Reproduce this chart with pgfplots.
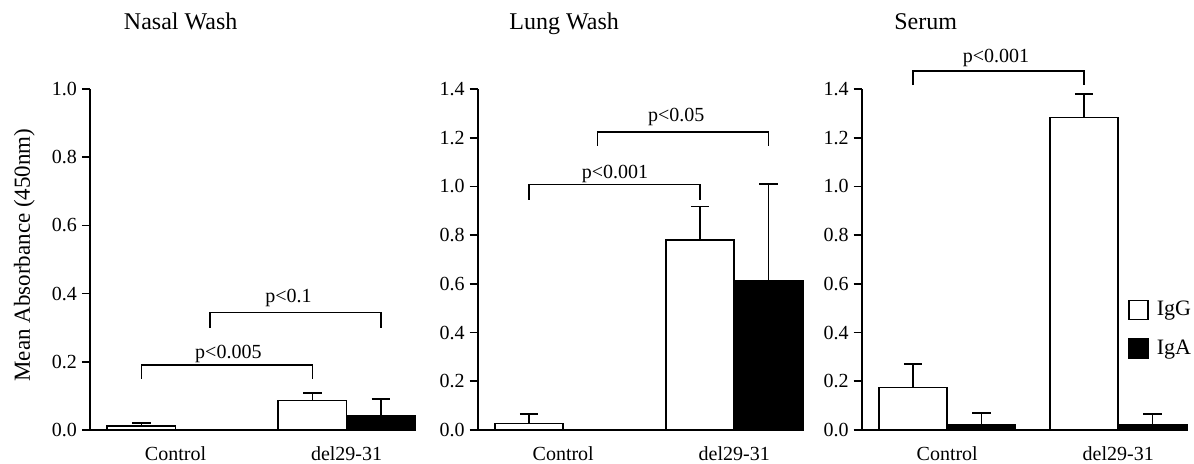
\documentclass[border=0pt]{standalone}
\usepackage{fontspec}
\setmainfont{Liberation Serif}
\usepackage{pgfplots}
\pgfplotsset{compat=1.18}

% 1 px of the reference = 0.5pt
\tikzset{
  igg/.style={fill=white, draw=black, line width=0.8pt},
  iga/.style={fill=black, draw=black, line width=0.8pt},
  pval/.style={anchor=base, font=\fontsize{10}{11}\selectfont},
  brk/.style={line width=0.8pt},
}
\pgfplotsset{
  every axis title shift=0pt,
  panel/.style={
    scale only axis, width=162.5pt, height=170.5pt,
    anchor=south west,
    axis lines=left, axis line style={-, line width=0.9pt},
    xmin=-0.5, xmax=1.4, ymin=0,
    xtick={0,1}, xticklabels={Control, del29-31},
    xtick style={draw=none},
    ytick style={line width=0.8pt, black},
    tick align=outside, major tick length=4pt,
    tick label style={font=\fontsize{10}{11}\selectfont},
    xticklabel style={inner ysep=0pt, yshift=-4.3pt},
    yticklabel style={xshift=1pt, /pgf/number format/.cd, fixed, fixed zerofill, precision=1},
    /pgf/number format/assume math mode=true,
    ybar=0pt, bar width=0.4,
    clip=false,
    title style={font=\fontsize{12}{14}\selectfont, anchor=base},
    error bars/y dir=plus, error bars/y explicit,
    error bars/error bar style={line width=0.8pt, black},
    error bars/error mark options={rotate=90, line width=0.8pt, mark size=4.6pt, black},
  },
}

\begin{document}
\begin{tikzpicture}
\path[use as bounding box] (0,0) rectangle (597pt,-232pt);

% Nasal wash
\begin{axis}[panel, at={(45pt,-215pt)},
    ymax=1.0, ytick={0,0.2,...,1.0},
    title={Nasal Wash}, title style={at={(0.279,1.175)}},
    ylabel={Mean Absorbance (450nm)},
    ylabel style={font=\fontsize{11.5}{13}\selectfont, at={(axis description cs:-0.185,0.513)}, anchor=base}]
\addplot[igg] coordinates {(0,0.012) +- (0,0.009) (1,0.086) +- (0,0.023)};
\addplot[iga] coordinates {(1,0.041) +- (0,0.050)};
\draw[brk] (axis cs:-0.2,0.15) |- (axis cs:0.8,0.19) -- (axis cs:0.8,0.15);
\node[pval] at (axis cs:0.309,0.210) {p<0.005};
\draw[brk] (axis cs:0.2,0.30) |- (axis cs:1.2,0.345) -- (axis cs:1.2,0.30);
\node[pval] at (axis cs:0.66,0.374) {p<0.1};
\end{axis}

% Lung wash
\begin{axis}[panel, at={(238.85pt,-215pt)},
    ymax=1.4, ytick={0,0.2,...,1.4},
    title={Lung Wash}, title style={at={(0.266,1.175)}}]
\addplot[igg] coordinates {(0,0.027) +- (0,0.038) (1,0.779) +- (0,0.139)};
\addplot[iga] coordinates {(1,0.613) +- (0,0.398)};
\draw[brk] (axis cs:-0.2,0.946) |- (axis cs:0.8,1.008) -- (axis cs:0.8,0.946);
\node[pval] at (axis cs:0.303,1.034) {p<0.001};
\draw[brk] (axis cs:0.2,1.166) |- (axis cs:1.2,1.223) -- (axis cs:1.2,1.166);
\node[pval] at (axis cs:0.661,1.267) {p<0.05};
\end{axis}

% Serum
\begin{axis}[panel, at={(430.85pt,-215pt)},
    ymax=1.4, ytick={0,0.2,...,1.4},
    title={Serum}, title style={at={(0.197,1.175)}},
    legend style={draw=none, fill=none, at={(0.819,0.39)}, anchor=north west,
      font=\fontsize{11}{13}\selectfont, row sep=6.5pt, inner sep=0pt},
    legend cell align=left,
    legend image code/.code={\draw[#1] (0pt,-4.75pt) rectangle (9.5pt,4.75pt); \path (11.5pt,0pt);}]
\addplot[igg] coordinates {(0,0.174) +- (0,0.098) (1,1.283) +- (0,0.096)};
\addlegendentry{IgG}
\addplot[iga] coordinates {(0,0.021) +- (0,0.048) (1,0.021) +- (0,0.045)};
\addlegendentry{IgA}
\draw[brk] (axis cs:-0.2,1.416) |- (axis cs:0.8,1.475) -- (axis cs:0.8,1.416);
\node[pval] at (axis cs:0.285,1.51) {p<0.001};
\end{axis}
\end{tikzpicture}
\end{document}
